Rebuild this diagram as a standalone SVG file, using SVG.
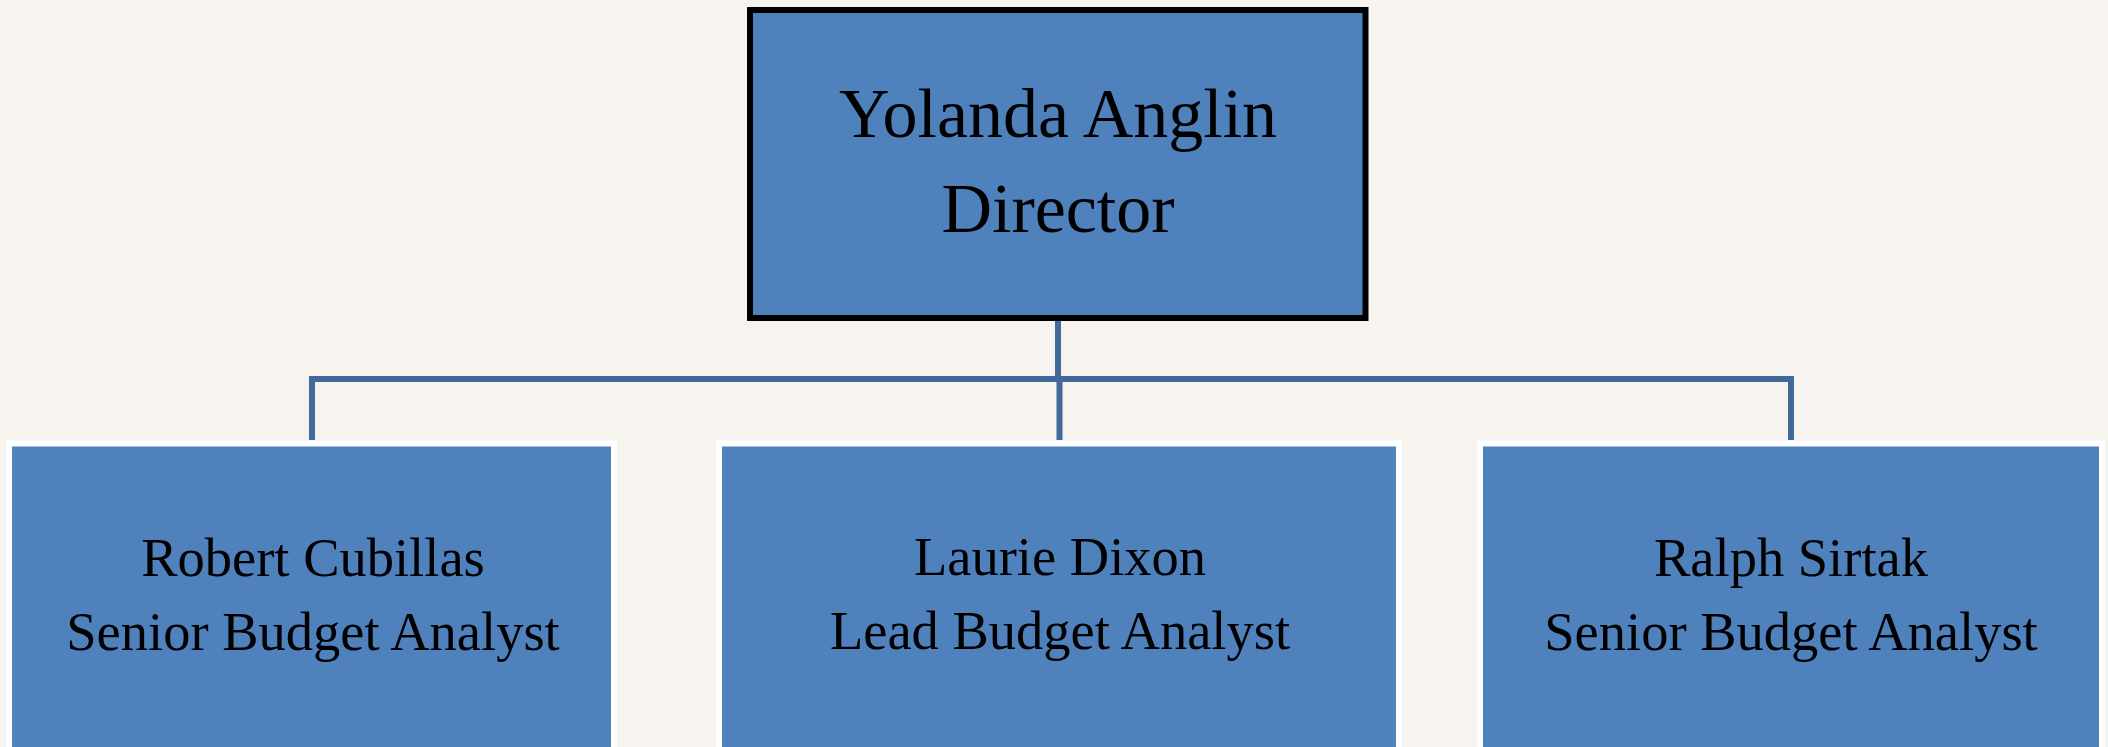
<svg xmlns="http://www.w3.org/2000/svg" width="2108" height="747" viewBox="0 0 2108 747">
<style>
.bg{fill:#f7f4ef}
.top{fill:#4f81bd;stroke:#000;stroke-width:6}
.child{fill:#4f81bd;stroke:#fff;stroke-width:6}
.conn{stroke:#41699a;stroke-width:6;fill:none}
.t1{font-family:"Liberation Serif","Times New Roman",serif;font-size:70px;fill:#000;text-anchor:middle}
.t2{font-family:"Liberation Serif","Times New Roman",serif;font-size:54.5px;fill:#000;text-anchor:middle}
</style>
<rect class="bg" x="0" y="0" width="2108" height="747"/>
<g id="connectors">
<path class="conn" d="M1058 321 V379"/>
<path class="conn" d="M309 379 H1794"/>
<path class="conn" d="M312 376 V440"/>
<path class="conn" d="M1059.5 379 V440"/>
<path class="conn" d="M1791 376 V440"/>
</g>
<g id="director">
<rect class="top" x="750" y="10" width="615.5" height="308"/>
<text class="t1" x="1058" y="137">Yolanda Anglin</text>
<text class="t1" x="1058" y="232">Director</text>
</g>
<g id="robert">
<rect class="child" x="9" y="443.5" width="605" height="400"/>
<text class="t2" x="313" y="576">Robert Cubillas</text>
<text class="t2" x="313" y="650">Senior Budget Analyst</text>
</g>
<g id="laurie">
<rect class="child" x="719" y="443.5" width="680" height="400"/>
<text class="t2" x="1060" y="575">Laurie Dixon</text>
<text class="t2" x="1060" y="649">Lead Budget Analyst</text>
</g>
<g id="ralph">
<rect class="child" x="1480" y="443.5" width="622" height="400"/>
<text class="t2" x="1791" y="576">Ralph Sirtak</text>
<text class="t2" x="1791" y="650">Senior Budget Analyst</text>
</g>
</svg>
